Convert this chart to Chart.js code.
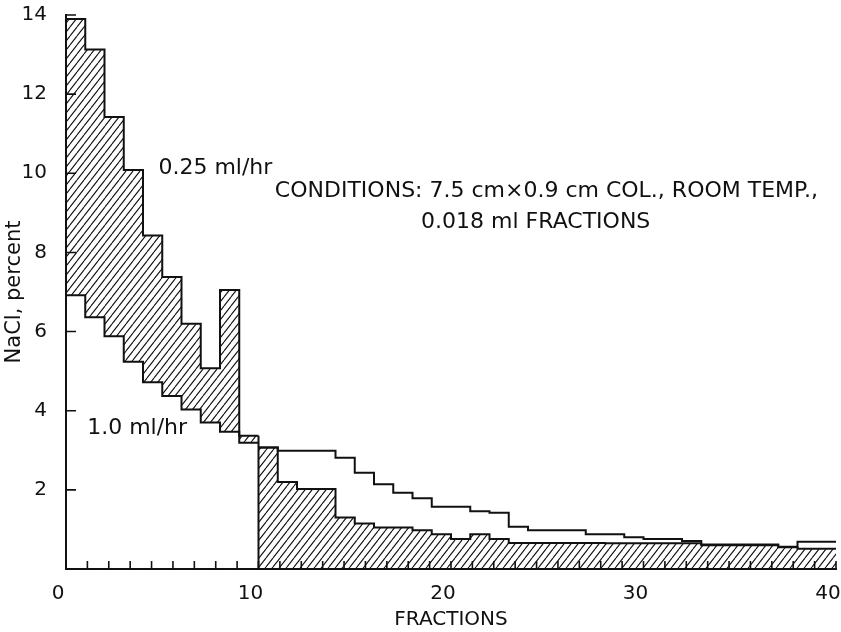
<!DOCTYPE html>
<html>
<head>
<meta charset="utf-8">
<script src="https://cdn.jsdelivr.net/npm/chart.js@4.4.0/dist/chart.umd.min.js"></script>
<style>
  html, body { margin: 0; padding: 0; background: #fff; }
  #wrap { width: 841px; height: 632px; }
</style>
</head>
<body>
<div id="wrap"><canvas id="chart" width="841" height="632"></canvas></div>
<script>
const FONT = "'DejaVu Sans', sans-serif";
const INK = '#111';

// NaCl, percent for each fraction (entry i covers fractions i..i+1)
const slowRate = [ // 0.25 ml/hr
  13.9, 13.13, 11.42, 10.08, 8.43, 7.38, 6.20, 5.07, 7.05, 3.37,
  3.07, 2.20, 2.02, 2.02, 1.30, 1.15, 1.05, 1.05, 0.98, 0.88,
  0.76, 0.88, 0.76, 0.66, 0.66, 0.66, 0.66, 0.66, 0.65, 0.65,
  0.65, 0.65, 0.65, 0.60, 0.60, 0.60, 0.60, 0.55, 0.51, 0.51
];
const fastRate = [ // 1.0 ml/hr
  6.92, 6.36, 5.88, 5.24, 4.72, 4.37, 4.03, 3.70, 3.47, 3.19,
  3.07, 2.99, 2.99, 2.99, 2.81, 2.43, 2.14, 1.93, 1.79, 1.57,
  1.57, 1.46, 1.42, 1.07, 0.98, 0.98, 0.98, 0.88, 0.88, 0.80,
  0.76, 0.76, 0.71, 0.62, 0.62, 0.62, 0.62, 0.56, 0.69, 0.69
];
const xTickLabels = [0, 10, 20, 30, 40];
const yTickLabels = [2, 4, 6, 8, 10, 12, 14];
const SPLIT = 10; // after fraction 10 the 0.25 ml/hr curve runs below

function steps(values, from, to) {
  const pts = [];
  for (let i = from; i < to; i++) pts.push({ x: i, y: values[i] });
  pts.push({ x: to, y: values[to - 1] });
  return pts;
}

function hatch() {
  const w = 7, h = 9;
  const c = document.createElement('canvas');
  c.width = w; c.height = h;
  const g = c.getContext('2d');
  g.strokeStyle = INK;
  g.lineWidth = 1.1;
  g.beginPath();
  for (const dx of [-w, 0, w]) { g.moveTo(dx, h); g.lineTo(dx + w, 0); }
  g.stroke();
  return g.createPattern(c, 'repeat');
}

const pattern = hatch();
const lineStyle = { borderColor: INK, borderWidth: 2, stepped: true, pointRadius: 0 };

const slowTail = [{ x: SPLIT, y: 0 }, { x: SPLIT, y: slowRate[SPLIT - 1] }, ...steps(slowRate, SPLIT, slowRate.length)];

const innerTicks = {
  id: 'innerTicks',
  afterDatasetsDraw(chart) {
    const { ctx, chartArea: a, scales: { x, y } } = chart;
    ctx.save();
    ctx.strokeStyle = INK;
    ctx.lineWidth = 1.6;
    ctx.beginPath();
    x.ticks.forEach((t, i) => {
      const px = x.getPixelForTick(i);
      ctx.moveTo(px, a.bottom); ctx.lineTo(px, a.bottom - 8);
    });
    y.ticks.forEach((t, i) => {
      if (!t.value) return;
      const py = y.getPixelForTick(i);
      ctx.moveTo(a.left, py); ctx.lineTo(a.left + 10, py);
    });
    ctx.stroke();

    // curve labels and run conditions
    ctx.fillStyle = INK;
    ctx.textBaseline = 'middle';
    ctx.font = `22px ${FONT}`;
    ctx.textAlign = 'left';
    ctx.fillText('0.25 ml/hr', x.getPixelForValue(4.8), y.getPixelForValue(10.13));
    ctx.fillText('1.0 ml/hr', x.getPixelForValue(1.1), y.getPixelForValue(3.56));
    ctx.fillText('CONDITIONS: 7.5 cm\u00d70.9 cm COL., ROOM TEMP.,', x.getPixelForValue(10.85), y.getPixelForValue(9.55));
    ctx.textAlign = 'center';
    ctx.fillText('0.018 ml FRACTIONS', x.getPixelForValue(24.4), y.getPixelForValue(8.77));
    ctx.restore();
  }
};

new Chart(document.getElementById('chart'), {
  type: 'line',
  data: {
    datasets: [
      { label: '0.25 ml/hr', data: steps(slowRate, 0, SPLIT), fill: '+1', backgroundColor: pattern, ...lineStyle },
      { label: '1.0 ml/hr', data: steps(fastRate, 0, SPLIT), fill: false, ...lineStyle },
      { label: '1.0 ml/hr', data: steps(fastRate, SPLIT, fastRate.length), fill: false, ...lineStyle },
      { label: '0.25 ml/hr', data: slowTail, fill: 'origin', backgroundColor: pattern, ...lineStyle }
    ]
  },
  options: {
    responsive: false,
    animation: false,
    layout: { padding: { top: 15, right: 5, left: 0, bottom: 0 } },
    plugins: { legend: { display: false }, tooltip: { enabled: false } },
    scales: {
      x: {
        type: 'linear',
        min: 0, max: 40,
        grid: { display: false },
        border: { color: INK, width: 2 },
        ticks: {
          count: 37,
          autoSkip: false,
          maxRotation: 0,
          padding: 5,
          labelOffset: -8,
          color: INK,
          font: { family: FONT, size: 20 },
          callback: v => {
            const hit = xTickLabels.find(l => Math.abs(l - v) < 1e-6);
            return hit === undefined ? '' : String(hit);
          }
        },
        title: { display: true, text: 'FRACTIONS', color: INK, font: { family: FONT, size: 20 }, padding: { top: 2, bottom: 0 } },
        afterFit: s => { s.height = 63; s.paddingLeft = 0; s.paddingRight = 0; }
      },
      y: {
        min: 0, max: 14,
        grid: { display: false },
        border: { color: INK, width: 2 },
        ticks: {
          stepSize: 2,
          padding: 11,
          color: INK,
          font: { family: FONT, size: 20 },
          callback: v => yTickLabels.includes(v) ? String(v) : ''
        },
        title: { display: true, text: 'NaCl, percent', color: INK, font: { family: FONT, size: 21 }, padding: { top: 2, bottom: 4 } },
        afterFit: s => { s.width = 66; s.paddingTop = 0; s.paddingBottom = 0; }
      }
    }
  },
  plugins: [innerTicks]
});
</script>
</body>
</html>
